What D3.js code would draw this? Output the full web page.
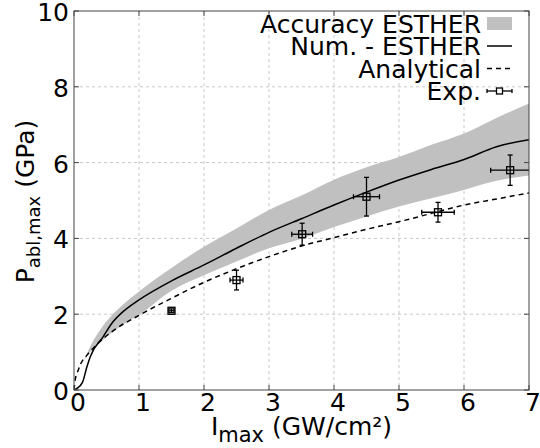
<!DOCTYPE html>
<html>
<head>
<meta charset="utf-8">
<script src="https://cdn.jsdelivr.net/npm/d3@7"></script>
<style>
  html, body { margin: 0; padding: 0; background: #fff; }
  svg { display: block; }
  text { font-family: "DejaVu Sans", Verdana, sans-serif; fill: #000; }
</style>
</head>
<body>
<svg id="chart" width="540" height="448"></svg>
<script>
// ---- data ----
const xTicks = [0, 1, 2, 3, 4, 5, 6, 7];
const yTicks = [0, 2, 4, 6, 8, 10];

const bandX     = [0.15, 0.25, 0.45, 0.75, 1.0, 1.5, 2.0, 2.5, 3.0, 3.5, 4.0, 4.5, 5.0, 5.5, 6.0, 6.5, 7.0];
const bandUpper = [0.78, 1.15, 1.70, 2.25, 2.60, 3.22, 3.78, 4.26, 4.75, 5.13, 5.55, 5.88, 6.15, 6.47, 6.77, 7.18, 7.56];
const bandLower = [0.78, 1.00, 1.32, 1.72, 1.98, 2.62, 3.03, 3.39, 3.74, 3.99, 4.30, 4.58, 4.84, 5.06, 5.28, 5.52, 5.66];

const numX = [0, 0.05, 0.13, 0.2, 0.25, 0.45, 0.6, 0.75, 0.9, 1.0, 1.5, 2.0, 2.5, 3.0, 3.5, 4.0, 4.5, 5.0, 5.5, 6.0, 6.5, 7.0];
const numY = [0, 0.05, 0.2, 0.62, 0.88, 1.41, 1.80, 2.06, 2.26, 2.38, 2.88, 3.30, 3.74, 4.16, 4.52, 4.88, 5.22, 5.54, 5.82, 6.08, 6.42, 6.60];

const anaX = [0, 0.02, 0.05, 0.1, 0.2, 0.35, 0.6, 1.0, 1.5, 2.0, 2.5, 3.0, 3.5, 4.0, 4.5, 5.0, 5.5, 6.0, 6.5, 7.0];
const anaY = [0, 0.28, 0.45, 0.68, 0.92, 1.20, 1.56, 1.97, 2.42, 2.84, 3.20, 3.52, 3.80, 4.02, 4.24, 4.44, 4.66, 4.88, 5.04, 5.20];

const expX    = [1.50, 2.50, 3.51, 4.50, 5.60, 6.71];
const expY    = [2.09, 2.90, 4.11, 5.10, 4.69, 5.80];
const expXErr = [0.04, 0.10, 0.16, 0.20, 0.25, 0.30];
const expYErr = [0.05, 0.26, 0.29, 0.51, 0.26, 0.40];

const legendLabels = ["Accuracy ESTHER", "Num. - ESTHER", "Analytical", "Exp."];

// ---- layout ----
const L = 74, R = 529, T = 11, B = 390;
const svg = d3.select("#chart");
const x = d3.scaleLinear().domain([0, 7]).range([L, R]);
const y = d3.scaleLinear().domain([0, 10]).range([B, T]);

const FS = 25;

// grid
const grid = svg.append("g");
xTicks.filter(t => t > 0 && t < 7).forEach(t => {
  grid.append("line").attr("x1", x(t)).attr("x2", x(t)).attr("y1", T).attr("y2", B)
    .attr("stroke", "#c8c8c8").attr("stroke-width", 1).attr("stroke-dasharray", "3,3");
});
yTicks.filter(t => t > 0 && t < 10).forEach(t => {
  grid.append("line").attr("x1", L).attr("x2", R).attr("y1", y(t)).attr("y2", y(t))
    .attr("stroke", "#c8c8c8").attr("stroke-width", 1).attr("stroke-dasharray", "3,3");
});

// clip
svg.append("clipPath").attr("id", "clip").append("rect")
  .attr("x", L).attr("y", T).attr("width", R - L).attr("height", B - T);
const plot = svg.append("g").attr("clip-path", "url(#clip)");

// band
const bandData = bandX.map((d, i) => ({x: d, lo: bandLower[i], hi: bandUpper[i]}));
plot.append("path").datum(bandData)
  .attr("d", d3.area().curve(d3.curveMonotoneX).x(d => x(d.x)).y0(d => y(d.lo)).y1(d => y(d.hi)))
  .attr("fill", "#c0c0c0").attr("stroke", "none");

// analytical
const anaData = anaX.map((d, i) => ({x: d, y: anaY[i]}));
plot.append("path").datum(anaData)
  .attr("d", d3.line().curve(d3.curveMonotoneX).x(d => x(d.x)).y(d => y(d.y)))
  .attr("fill", "none").attr("stroke", "#000").attr("stroke-width", 1.5)
  .attr("stroke-dasharray", "5,4");

// numerical
const numData = numX.map((d, i) => ({x: d, y: numY[i]}));
plot.append("path").datum(numData)
  .attr("d", d3.line().curve(d3.curveMonotoneX).x(d => x(d.x)).y(d => y(d.y)))
  .attr("fill", "none").attr("stroke", "#000").attr("stroke-width", 1.5);

// experimental points
const cap = 2.5, sq = 7;
const expData = expX.map((d, i) => ({x: d, y: expY[i], ex: expXErr[i], ey: expYErr[i]}));
const eg = plot.selectAll("g.exp").data(expData).enter().append("g").attr("class", "exp");
eg.each(function(d) {
  const g = d3.select(this);
  const cx = x(d.x), cy = y(d.y);
  const x0 = x(d.x - d.ex), x1 = x(d.x + d.ex), y0 = y(d.y - d.ey), y1 = y(d.y + d.ey);
  const ln = (a, b, c, e) => g.append("line").attr("x1", a).attr("y1", b).attr("x2", c).attr("y2", e)
    .attr("stroke", "#000").attr("stroke-width", 1.3);
  ln(x0, cy, x1, cy);
  ln(cx, y0, cx, y1);
  ln(x0, cy - cap, x0, cy + cap);
  ln(x1, cy - cap, x1, cy + cap);
  ln(cx - cap, y0, cx + cap, y0);
  ln(cx - cap, y1, cx + cap, y1);
  g.append("rect").attr("x", cx - sq / 2).attr("y", cy - sq / 2).attr("width", sq).attr("height", sq)
    .attr("fill", "none").attr("stroke", "#000").attr("stroke-width", 1.3);
});

// border and ticks
svg.append("rect").attr("x", L).attr("y", T).attr("width", R - L).attr("height", B - T)
  .attr("fill", "none").attr("stroke", "#444").attr("stroke-width", 1);
const tk = 5;
xTicks.forEach(t => {
  svg.append("line").attr("x1", x(t)).attr("x2", x(t)).attr("y1", B).attr("y2", B - tk).attr("stroke", "#444");
  svg.append("line").attr("x1", x(t)).attr("x2", x(t)).attr("y1", T).attr("y2", T + tk).attr("stroke", "#444");
});
yTicks.forEach(t => {
  svg.append("line").attr("x1", L).attr("x2", L + tk).attr("y1", y(t)).attr("y2", y(t)).attr("stroke", "#444");
  svg.append("line").attr("x1", R).attr("x2", R - tk).attr("y1", y(t)).attr("y2", y(t)).attr("stroke", "#444");
});

// tick labels
svg.selectAll("text.xt").data(xTicks).enter().append("text").attr("class", "xt")
  .attr("x", d => x(d) + 4).attr("y", B + 21).attr("text-anchor", "middle")
  .attr("font-size", FS).text(d => d);
svg.selectAll("text.yt").data(yTicks).enter().append("text").attr("class", "yt")
  .attr("x", L - 5).attr("y", d => y(d) + 10).attr("text-anchor", "end")
  .attr("font-size", FS).text(d => d);

// axis titles
const xt = svg.append("text").attr("x", (L + R) / 2).attr("y", 435).attr("text-anchor", "middle")
  .attr("font-size", FS);
xt.append("tspan").text("I");
xt.append("tspan").attr("dy", 7).attr("font-size", 21).text("max");
xt.append("tspan").attr("dy", -7).text(" (GW/cm²)");

const yt = svg.append("text").attr("transform", `translate(34,${(T + B) / 2 + 1}) rotate(-90)`)
  .attr("text-anchor", "middle").attr("font-size", FS);
yt.append("tspan").text("P");
yt.append("tspan").attr("dy", 6).attr("font-size", 18).text("abl,max");
yt.append("tspan").attr("dy", -6).text(" (GPa)");

// legend
const lx = 481, sx0 = 487, sx1 = 512;
const rowC = [23.5, 46, 68.5, 91];
legendLabels.forEach((lab, i) => {
  svg.append("text").attr("x", lx).attr("y", rowC[i] + 9).attr("text-anchor", "end")
    .attr("font-size", FS).text(lab);
});
svg.append("rect").attr("x", sx0).attr("y", rowC[0] - 6.5).attr("width", sx1 - sx0).attr("height", 13)
  .attr("fill", "#c0c0c0");
svg.append("line").attr("x1", sx0).attr("x2", sx1).attr("y1", rowC[1]).attr("y2", rowC[1])
  .attr("stroke", "#000").attr("stroke-width", 1.5);
svg.append("line").attr("x1", sx0).attr("x2", sx1).attr("y1", rowC[2]).attr("y2", rowC[2])
  .attr("stroke", "#000").attr("stroke-width", 1.5).attr("stroke-dasharray", "5,4");
const ly = rowC[3], lmx = (sx0 + sx1) / 2;
svg.append("line").attr("x1", sx0).attr("x2", sx1).attr("y1", ly).attr("y2", ly).attr("stroke", "#000").attr("stroke-width", 1.3);
svg.append("line").attr("x1", sx0).attr("x2", sx0).attr("y1", ly - 2).attr("y2", ly + 2).attr("stroke", "#000").attr("stroke-width", 1.3);
svg.append("line").attr("x1", sx1).attr("x2", sx1).attr("y1", ly - 2).attr("y2", ly + 2).attr("stroke", "#000").attr("stroke-width", 1.3);
svg.append("rect").attr("x", lmx - 3).attr("y", ly - 3).attr("width", 6).attr("height", 6)
  .attr("fill", "#fff").attr("stroke", "#000").attr("stroke-width", 1.3);
</script>
</body>
</html>
